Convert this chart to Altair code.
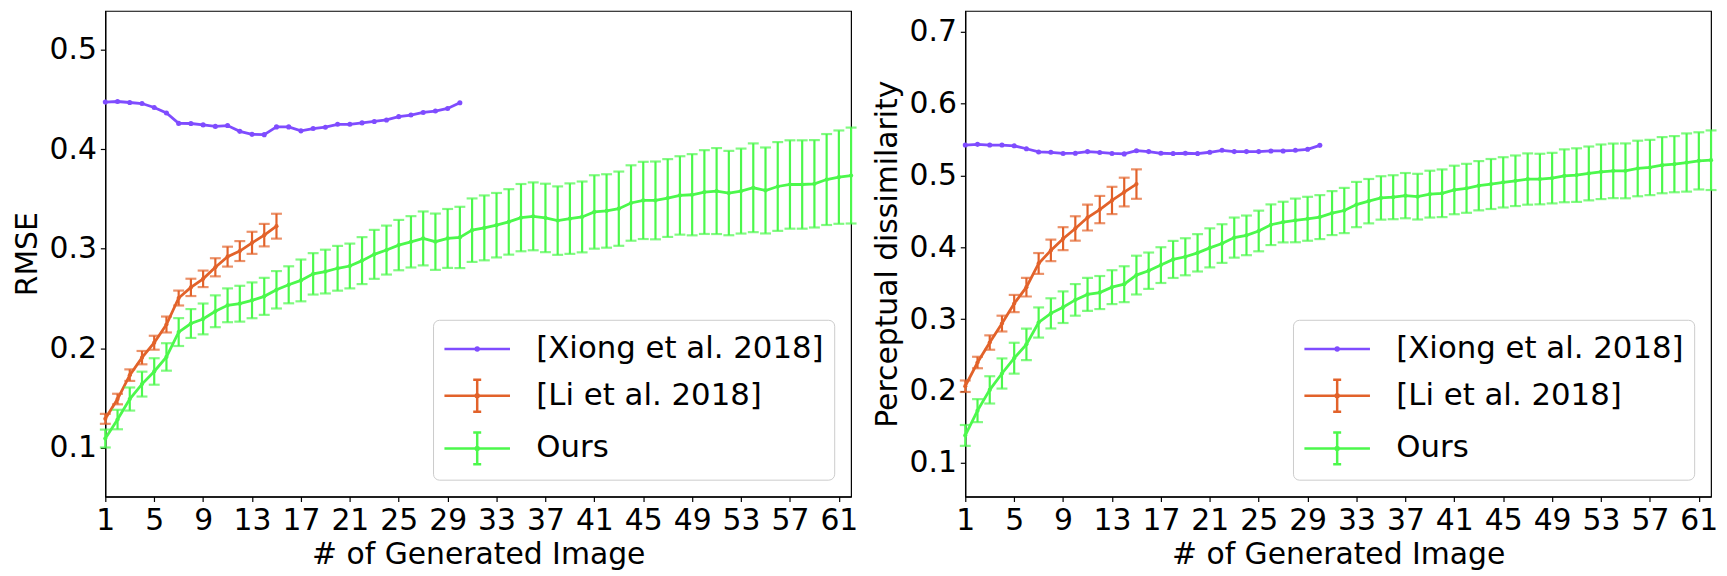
import altair as alt
import pandas as pd

SERIES = ["[Xiong et al. 2018]", "[Li et al. 2018]", "Ours"]
COLORS = ["#7f4cff", "#e2622a", "#4cf84c"]
X_TICKS = [1, 5, 9, 13, 17, 21, 25, 29, 33, 37, 41, 45, 49, 53, 57, 61]

# ---- Left panel: RMSE ----
rmse_xiong = [0.4474, 0.4480, 0.4470, 0.4460, 0.4420, 0.4365, 0.4260, 0.4259, 0.4245, 0.4230,
              0.4238, 0.4180, 0.4150, 0.4147, 0.4225, 0.4225, 0.4185, 0.4208, 0.4222, 0.4251,
              0.4251, 0.4265, 0.4280, 0.4295, 0.4328, 0.4344, 0.4370, 0.4384, 0.4410, 0.4468]
rmse_li = [0.1291, 0.1490, 0.1730, 0.1906, 0.2056, 0.2239, 0.2505, 0.2612, 0.2698, 0.2814,
           0.2921, 0.2977, 0.3060, 0.3137, 0.3227]
rmse_li_err = [0.0050, 0.0053, 0.0058, 0.0067, 0.0070, 0.0080, 0.0075, 0.0087, 0.0083, 0.0091,
               0.0100, 0.0100, 0.0111, 0.0113, 0.0125]
rmse_ours = [0.1093, 0.1284, 0.1490, 0.1640, 0.1767, 0.1913, 0.2163, 0.2249, 0.2295, 0.2372,
             0.2432, 0.2448, 0.2482, 0.2522, 0.2588, 0.2638, 0.2682, 0.2748, 0.2771, 0.2804,
             0.2827, 0.2881, 0.2944, 0.2987, 0.3037, 0.3070, 0.3104, 0.3071, 0.3104, 0.3114,
             0.3187, 0.3210, 0.3237, 0.3270, 0.3313, 0.3326, 0.3310, 0.3283, 0.3303, 0.3320,
             0.3370, 0.3380, 0.3403, 0.3460, 0.3486, 0.3486, 0.3510, 0.3536, 0.3543, 0.3570,
             0.3580, 0.3560, 0.3580, 0.3613, 0.3586, 0.3626, 0.3646, 0.3646, 0.3653, 0.3696,
             0.3720, 0.3736]
rmse_ours_err = [0.0090, 0.0098, 0.0116, 0.0125, 0.0133, 0.0138, 0.0140, 0.0145, 0.0155, 0.0160,
                 0.0170, 0.0180, 0.0180, 0.0186, 0.0188, 0.0186, 0.0210, 0.0208, 0.0220, 0.0225,
                 0.0225, 0.0236, 0.0246, 0.0246, 0.0253, 0.0258, 0.0271, 0.0283, 0.0296, 0.0308,
                 0.0319, 0.0326, 0.0324, 0.0329, 0.0338, 0.0341, 0.0344, 0.0344, 0.0354, 0.0356,
                 0.0369, 0.0369, 0.0373, 0.0379, 0.0388, 0.0391, 0.0391, 0.0394, 0.0408, 0.0421,
                 0.0432, 0.0424, 0.0427, 0.0446, 0.0432, 0.0446, 0.0444, 0.0444, 0.0439, 0.0457,
                 0.0469, 0.0482]

# ---- Right panel: Perceptual dissimilarity ----
pd_xiong = [0.5423, 0.5433, 0.5423, 0.5423, 0.5413, 0.5372, 0.5327, 0.5322, 0.5306, 0.5310,
            0.5332, 0.5320, 0.5306, 0.5300, 0.5345, 0.5332, 0.5309, 0.5305, 0.5309, 0.5305,
            0.5323, 0.5350, 0.5332, 0.5332, 0.5332, 0.5341, 0.5341, 0.5350, 0.5364, 0.5419]
pd_li = [0.2066, 0.2396, 0.2674, 0.2938, 0.3217, 0.3445, 0.3775, 0.3957, 0.4120, 0.4262,
         0.4414, 0.4525, 0.4652, 0.4769, 0.4880]
pd_li_err = [0.0080, 0.0080, 0.0100, 0.0110, 0.0120, 0.0130, 0.0145, 0.0150, 0.0160, 0.0170,
             0.0180, 0.0190, 0.0190, 0.0200, 0.0205]
pd_ours = [0.1381, 0.1726, 0.2015, 0.2243, 0.2456, 0.2649, 0.2953, 0.3080, 0.3166, 0.3268,
           0.3344, 0.3370, 0.3445, 0.3486, 0.3613, 0.3674, 0.3752, 0.3831, 0.3868, 0.3923,
           0.3992, 0.4052, 0.4135, 0.4166, 0.4227, 0.4314, 0.4351, 0.4374, 0.4397, 0.4420,
           0.4476, 0.4512, 0.4595, 0.4642, 0.4687, 0.4697, 0.4719, 0.4705, 0.4740, 0.4752,
           0.4798, 0.4821, 0.4857, 0.4881, 0.4904, 0.4926, 0.4950, 0.4950, 0.4963, 0.4995,
           0.5005, 0.5028, 0.5051, 0.5064, 0.5064, 0.5097, 0.5111, 0.5143, 0.5157, 0.5180,
           0.5203, 0.5212]
pd_ours_err = [0.0145, 0.0160, 0.0190, 0.0210, 0.0215, 0.0220, 0.0210, 0.0210, 0.0220, 0.0220,
               0.0230, 0.0230, 0.0236, 0.0250, 0.0270, 0.0253, 0.0249, 0.0258, 0.0258, 0.0260,
               0.0272, 0.0269, 0.0279, 0.0276, 0.0283, 0.0283, 0.0283, 0.0304, 0.0306, 0.0306,
               0.0306, 0.0315, 0.0315, 0.0309, 0.0302, 0.0306, 0.0315, 0.0318, 0.0326, 0.0332,
               0.0338, 0.0341, 0.0343, 0.0348, 0.0350, 0.0352, 0.0357, 0.0352, 0.0352, 0.0368,
               0.0373, 0.0375, 0.0380, 0.0380, 0.0382, 0.0387, 0.0385, 0.0391, 0.0391, 0.0405,
               0.0398, 0.0415]

# legend handle shapes (unit = half the nominal symbol width; handle runs to the right)
DOT = "M0.916,0A0.083,0.083,0,1,1,0.75,0A0.083,0.083,0,1,1,0.916,0"
P_LINE = "M-1,0H2.667" + DOT
P_ERR = "M-1,0H2.667M0.833,-0.89V0.89M0.61,-0.89H1.056M0.61,0.89H1.056" + DOT

FONT = "DejaVu Sans"

LEG_KW = dict(orient="bottom-right", offset=17, padding=10,
              strokeColor="#cccccc", cornerRadius=6, fillColor="white",
              labelFont=FONT, labelFontSize=31, labelColor="black",
              symbolSize=1296, symbolStrokeWidth=2.5, rowPadding=10,
              labelOffset=55, labelLimit=600)


def make_df(xiong, li, li_err, ours, ours_err):
    rows = []
    for i, v in enumerate(xiong):
        rows.append({"series": SERIES[0], "x": i + 1, "y": v, "lo": None, "hi": None})
    for i, (v, e) in enumerate(zip(li, li_err)):
        rows.append({"series": SERIES[1], "x": i + 1, "y": v, "lo": v - e, "hi": v + e})
    for i, (v, e) in enumerate(zip(ours, ours_err)):
        rows.append({"series": SERIES[2], "x": i + 1, "y": v, "lo": v - e, "hi": v + e})
    return pd.DataFrame(rows)


def panel(df, ydom, yticks, ytitle):
    xs = alt.Scale(domain=[1, 62], nice=False, zero=False)
    ys = alt.Scale(domain=ydom, nice=False, zero=False)
    xax = alt.Axis(values=X_TICKS, title="# of Generated Image", grid=False,
                   labelFlush=False, labelOverlap=False)
    yax = alt.Axis(values=yticks, format=".1f", title=ytitle, grid=False,
                   labelOverlap=False)
    cscale = alt.Scale(domain=SERIES, range=COLORS)
    X = alt.X("x:Q", scale=xs, axis=xax)
    col = alt.Color("series:N", scale=cscale, title="", legend=alt.Legend(**LEG_KW))

    base = alt.Chart(df)
    layers = []
    for s in SERIES:
        sub = base.transform_filter(alt.datum.series == s)
        if s != SERIES[0]:
            eb = sub.transform_filter("isValid(datum.lo)")
            layers.append(eb.mark_rule(strokeWidth=2.2).encode(
                x=X, y=alt.Y("lo:Q", scale=ys, axis=yax), y2="hi:Q", color=col))
            layers.append(eb.mark_tick(orient="horizontal", size=11, thickness=2.2).encode(
                x=X, y=alt.Y("lo:Q", scale=ys, axis=yax), color=col))
            layers.append(eb.mark_tick(orient="horizontal", size=11, thickness=2.2).encode(
                x=X, y=alt.Y("hi:Q", scale=ys, axis=yax), color=col))
        layers.append(sub.mark_line(strokeWidth=2.8).encode(
            x=X, y=alt.Y("y:Q", scale=ys, axis=yax), color=col))
        layers.append(sub.mark_circle(size=26 if s == SERIES[0] else 18, opacity=1).encode(
            x=X, y=alt.Y("y:Q", scale=ys, axis=yax), color=col))

    legend_layer = base.transform_filter("datum.x < -1000").mark_point(
        filled=False, strokeWidth=2.5, opacity=1).encode(
        x=X, y=alt.Y("y:Q", scale=ys, axis=yax),
        color=col,
        shape=alt.Shape("series:N", title="",
                        scale=alt.Scale(domain=SERIES, range=[P_LINE, P_ERR, P_ERR]),
                        legend=alt.Legend(**LEG_KW)))
    layers.append(legend_layer)
    return alt.layer(*layers).properties(width=751, height=489)


left = panel(make_df(rmse_xiong, rmse_li, rmse_li_err, rmse_ours, rmse_ours_err),
             [0.051, 0.539], [0.1, 0.2, 0.3, 0.4, 0.5], "RMSE")
right = panel(make_df(pd_xiong, pd_li, pd_li_err, pd_ours, pd_ours_err),
              [0.053, 0.729], [0.1, 0.2, 0.3, 0.4, 0.5, 0.6, 0.7], "Perceptual dissimilarity")

chart = alt.hconcat(left, right, spacing=12).resolve_scale(
    color="independent", shape="independent").resolve_legend(
    color="independent", shape="independent").properties(
    padding={"left": 3, "top": 0, "right": 0, "bottom": 0}
).configure_view(stroke="black", strokeWidth=1.2).configure_axis(
    labelFont=FONT, titleFont=FONT, labelFontSize=30, titleFontSize=30,
    titleFontWeight="normal", labelColor="black", titleColor="black",
    tickColor="black", domainColor="black", tickSize=5, tickWidth=1.2,
    domainWidth=1.2, labelPadding=4
).configure_axisX(titlePadding=4).configure_axisY(titlePadding=7)

chart.save("out.html", embed_options={"renderer": "svg", "actions": False})
